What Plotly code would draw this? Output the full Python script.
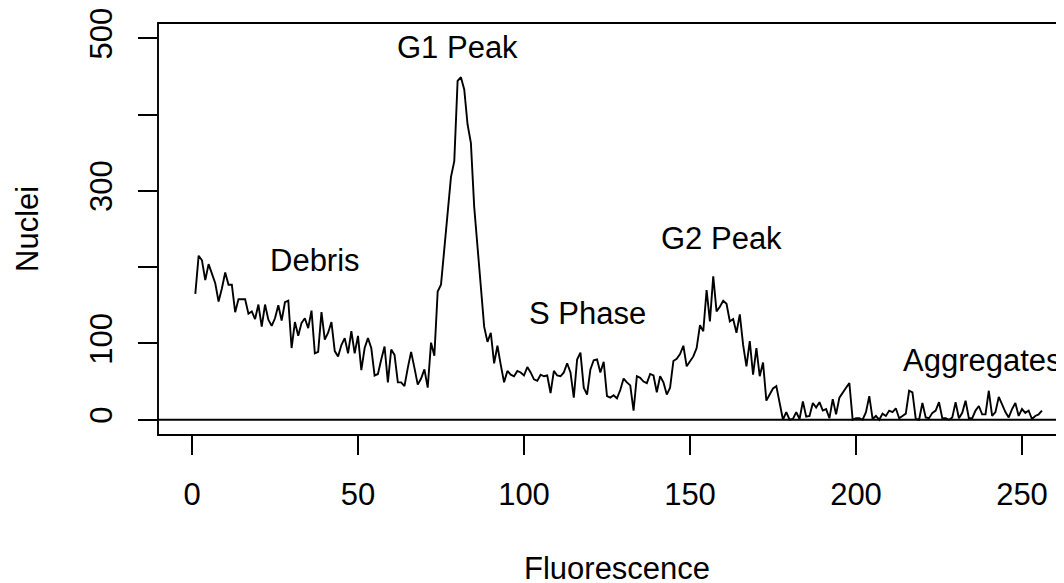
import plotly.graph_objects as go

channels = list(range(1, 257))
nuclei = [
    165, 215, 209, 183, 204, 192, 179, 155, 172, 193,
    177, 177, 141, 158, 158, 158, 139, 142, 132, 151,
    122, 151, 131, 123, 133, 150, 130, 154, 156, 94,
    128, 110, 127, 133, 120, 143, 87, 89, 141, 105,
    114, 128, 90, 83, 98, 107, 87, 116, 87, 110,
    65, 94, 107, 94, 58, 60, 79, 96, 49, 92,
    85, 49, 49, 44, 68, 89, 68, 46, 54, 66,
    42, 101, 84, 168, 177, 227, 279, 318, 339, 444,
    449, 433, 387, 363, 279, 227, 168, 122, 102, 114,
    74, 97, 72, 49, 64, 59, 57, 64, 62, 58,
    69, 62, 53, 51, 59, 57, 58, 35, 64, 58,
    57, 62, 74, 62, 29, 79, 88, 42, 33, 66,
    78, 79, 62, 76, 31, 29, 32, 28, 39, 54,
    49, 45, 12, 57, 55, 50, 48, 60, 58, 36,
    57, 49, 33, 42, 77, 80, 86, 97, 70, 77,
    83, 94, 124, 116, 170, 129, 188, 142, 148, 156,
    152, 129, 132, 114, 138, 98, 70, 103, 59, 94,
    57, 75, 25, 33, 41, 44, 20, 0, 10, 0,
    1, 10, 1, 24, 4, 5, 22, 16, 23, 12,
    14, 2, 27, 7, 29, 36, 42, 48, 0, 2,
    2, 0, 10, 31, 1, 5, 0, 8, 5, 12,
    10, 15, 2, 5, 8, 38, 36, 1, 0, 22,
    3, 2, 9, 12, 23, 2, 2, 0, 3, 23,
    2, 9, 25, 2, 2, 12, 18, 7, 7, 38,
    5, 10, 30, 20, 10, 3, 14, 22, 5, 14,
    9, 12, 1, 5, 7, 12,
]

x_ticks = [0, 50, 100, 150, 200, 250]
y_ticks = [0, 100, 200, 300, 400, 500]
y_tick_text = ["0", "100", "", "300", "", "500"]

labels = ["Debris", "G1 Peak", "S Phase", "G2 Peak", "Aggregates"]
label_x = [37, 80, 119, 159.5, 238]
label_y = [209, 488, 139, 238, 78]

FONT = "Liberation Sans, Arial, Helvetica, sans-serif"
FS = 31
LW = 1.9

fig = go.Figure()
fig.add_trace(go.Scatter(x=channels, y=nuclei, mode="lines",
                         line=dict(color="black", width=LW),
                         hoverinfo="skip", showlegend=False))

# box (right side falls outside the page, as in the reference)
fig.add_shape(type="rect", xref="paper", yref="paper", x0=0, x1=1.1, y0=0, y1=1,
              line=dict(color="black", width=LW), layer="above")
# horizontal reference line at 0
fig.add_shape(type="line", xref="paper", yref="y", x0=0, x1=1, y0=0, y1=0,
              line=dict(color="black", width=LW))

for t, xv, yv in zip(labels, label_x, label_y):
    fig.add_annotation(x=xv, y=yv, xref="x", yref="y", text=t, showarrow=False,
                       xanchor="center", yanchor="middle",
                       font=dict(family=FONT, size=FS, color="black"))

fig.add_annotation(x=-0.1446, y=0.5, xref="paper", yref="paper", text="Nuclei",
                   textangle=-90, showarrow=False, xanchor="center", yanchor="middle",
                   font=dict(family=FONT, size=FS, color="black"))
fig.add_annotation(x=0.5066, y=-0.3237, xref="paper", yref="paper", text="Fluorescence",
                   showarrow=False, xanchor="center", yanchor="middle", height=30,
                   font=dict(family=FONT, size=FS, color="black"))

# page body has an 8px margin, so the figure is sized to fit the window
fig.update_layout(
    width=1056, height=575,
    margin=dict(l=150, r=0, t=13, b=148, pad=0),
    paper_bgcolor="white", plot_bgcolor="white",
    showlegend=False,
    font=dict(family=FONT, size=FS, color="black"),
    xaxis=dict(range=[-10.24, 262.65], tickvals=x_ticks, ticks="outside",
               ticklen=19, tickwidth=LW, tickcolor="black", showgrid=False,
               zeroline=False, showline=False, ticklabelstandoff=13,
               ticklabeloverflow="allow",
               tickfont=dict(family=FONT, size=FS, color="black")),
    yaxis=dict(range=[-20, 520], tickvals=y_ticks, ticktext=y_tick_text,
               ticks="outside", ticklen=19, tickwidth=LW, tickcolor="black",
               tickangle=-90, showgrid=False, zeroline=False, showline=False,
               ticklabelstandoff=14, ticklabeloverflow="allow",
               tickfont=dict(family=FONT, size=FS, color="black")),
)

fig.write_html("out.html")
